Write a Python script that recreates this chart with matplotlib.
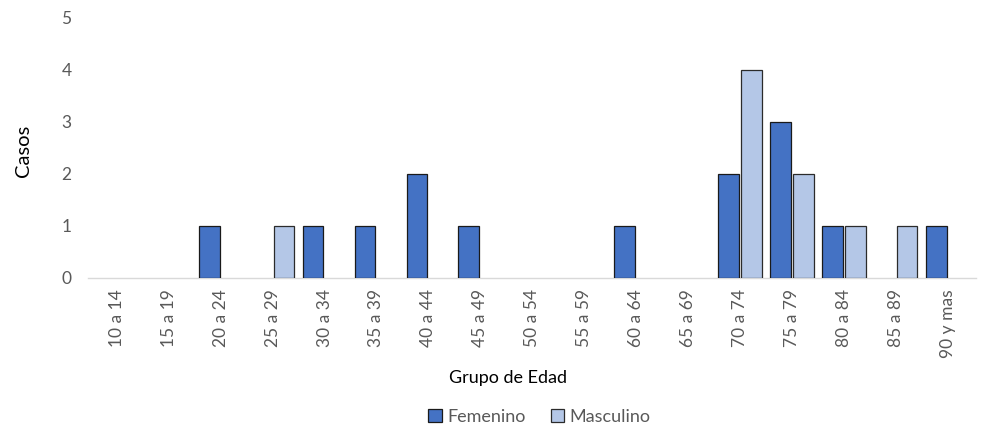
import matplotlib.pyplot as plt
import numpy as np
from matplotlib.patches import Patch

grupos = ["10 a 14", "15 a 19", "20 a 24", "25 a 29", "30 a 34", "35 a 39", "40 a 44",
          "45 a 49", "50 a 54", "55 a 59", "60 a 64", "65 a 69", "70 a 74", "75 a 79",
          "80 a 84", "85 a 89", "90 y mas"]
femenino = [0, 0, 1, 0, 1, 1, 2, 1, 0, 0, 1, 0, 2, 3, 1, 0, 1]
masculino = [0, 0, 0, 1, 0, 0, 0, 0, 0, 0, 0, 0, 4, 2, 1, 1, 0]

C_FEM = "#4472C4"
C_MAS = "#B4C7E7"
GRAY = "#595959"

plt.rcParams["font.family"] = ["Lato", "DejaVu Sans"]

fig = plt.figure(figsize=(9.81, 4.25), dpi=100)
ax = fig.add_axes([0.09, 0.346, 0.905, 0.612])

x = np.arange(len(grupos))
w = 0.4
off = 0.22
fem = np.array(femenino, dtype=float)
mas = np.array(masculino, dtype=float)
# zero values are not drawn (no outline on the baseline)
mf = fem > 0
mm = mas > 0
ax.bar(x[mf] - off, fem[mf], width=w, color=C_FEM, edgecolor="#1a1a1a", linewidth=0.9, zorder=3)
ax.bar(x[mm] + off, mas[mm], width=w, color=C_MAS, edgecolor="#2b2b2b", linewidth=0.9, zorder=3)

ax.set_xlim(-0.55, len(grupos) - 0.45)
ax.set_ylim(0, 5)
ax.set_yticks(range(0, 6))
ax.set_xticks(x)
ax.set_xticklabels(grupos, rotation=90, fontsize=12.5, color=GRAY)
ax.tick_params(axis="y", labelsize=12.5, labelcolor=GRAY, length=0, pad=12)
ax.tick_params(axis="x", length=0, pad=8)

for s in ["top", "right", "left"]:
    ax.spines[s].set_visible(False)
ax.spines["bottom"].set_color("#D9D9D9")
ax.spines["bottom"].set_linewidth(1.0)

fig.text(0.024, 0.645, "Casos", rotation=90, ha="center", va="center",
         fontsize=14.5, color="black")
fig.text(0.518, 0.11, "Grupo de Edad", ha="center", va="center", fontsize=13, color="black")

handles = [Patch(facecolor=C_FEM, edgecolor="#1a1a1a", linewidth=0.9, label="Femenino"),
           Patch(facecolor=C_MAS, edgecolor="#2b2b2b", linewidth=0.9, label="Masculino")]
leg = fig.legend(handles=handles, loc="center", bbox_to_anchor=(0.55, 0.02), ncol=2,
                 frameon=False, fontsize=13, handlelength=0.75, handleheight=0.75,
                 handletextpad=0.3, columnspacing=1.4)
for t in leg.get_texts():
    t.set_color(GRAY)

fig.savefig("out.png", dpi=100)
